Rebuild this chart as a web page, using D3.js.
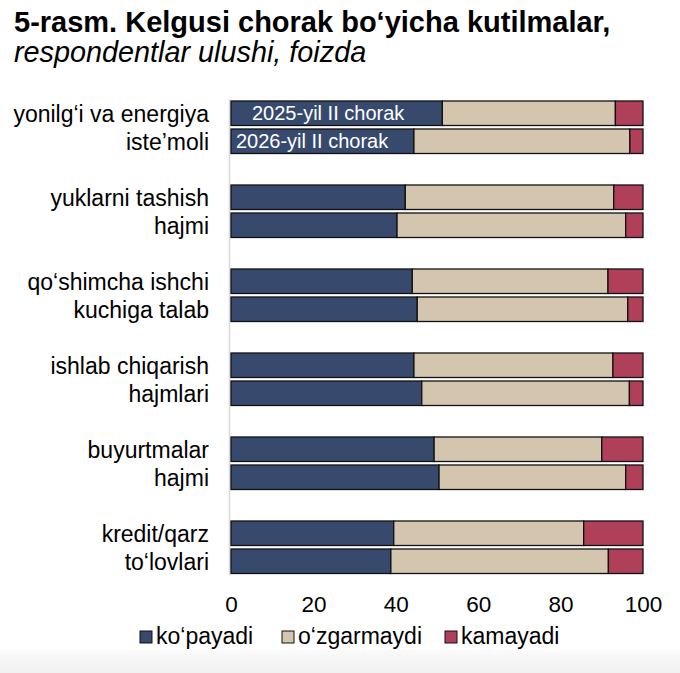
<!DOCTYPE html>
<html>
<head>
<meta charset="utf-8">
<script src="https://cdn.jsdelivr.net/npm/d3@7"></script>
<style>
  body { margin: 0; background: #fff; }
  svg text { font-family: "Liberation Sans", Arial, sans-serif; fill: #000; }
</style>
</head>
<body>
<div id="chart"></div>
<script>
// categories, two lines each
const categories = [
  ['yonilg‘i va energiya', 'iste’moli'],
  ['yuklarni tashish', 'hajmi'],
  ['qo‘shimcha ishchi', 'kuchiga talab'],
  ['ishlab chiqarish', 'hajmlari'],
  ['buyurtmalar', 'hajmi'],
  ['kredit/qarz', 'to‘lovlari']
];
const periods = ['2025-yil II chorak', '2026-yil II chorak'];
const seriesNames = ['ko‘payadi', 'o‘zgarmaydi', 'kamayadi'];

// shares per category: [2025, 2026]
const kopayadi = [[51.3, 44.4], [42.3, 40.3], [44.0, 45.2], [44.4, 46.3], [49.3, 50.5], [39.5, 38.8]];
const ozgarmaydi = [[42.0, 52.4], [50.6, 55.5], [47.5, 51.1], [48.3, 50.4], [40.7, 45.3], [46.1, 52.8]];
const kamayadi = [[6.7, 3.2], [7.1, 4.2], [8.5, 3.7], [7.3, 3.3], [10.0, 4.2], [14.4, 8.4]];

const tickValues = [0, 20, 40, 60, 80, 100];

const width = 680, height = 673;
const colors = ['#374a6e', '#d4c5ae', '#b0405a'];

const svg = d3.select('#chart').append('svg')
  .attr('width', width)
  .attr('height', height);

// faint band at bottom of the picture
const grad = svg.append('defs').append('linearGradient')
  .attr('id', 'band').attr('x1', 0).attr('x2', 0).attr('y1', 0).attr('y2', 1);
grad.append('stop').attr('offset', 0).attr('stop-color', '#fbfbfb');
grad.append('stop').attr('offset', 1).attr('stop-color', '#f0f0f0');
svg.append('rect')
  .attr('x', 0).attr('y', 650).attr('width', width).attr('height', height - 650)
  .attr('fill', 'url(#band)');

svg.append('text')
  .attr('x', 14).attr('y', 32)
  .attr('font-size', '29px')
  .attr('font-weight', 'bold')
  .text('5-rasm. Kelgusi chorak bo‘yicha kutilmalar,');

svg.append('text')
  .attr('x', 14).attr('y', 62)
  .attr('font-size', '28.8px')
  .attr('font-style', 'italic')
  .text('respondentlar ulushi, foizda');

const x = d3.scaleLinear().domain([0, 100]).range([231, 643]);

const catKeys = categories.map((c, i) => i);
const y0 = d3.scaleBand().domain(catKeys).range([101, 573.5]).paddingInner(0.375).paddingOuter(0);
const y1 = d3.scaleBand().domain([0, 1]).range([0, y0.bandwidth()]).paddingInner(0.125);

// build rows
const rows = [];
catKeys.forEach(ci => {
  [0, 1].forEach(pi => {
    rows.push({ ci, pi, values: [kopayadi[ci][pi], ozgarmaydi[ci][pi], kamayadi[ci][pi]] });
  });
});

// axis line
svg.append('line')
  .attr('x1', x(0) - 1.5).attr('x2', x(0) - 1.5)
  .attr('y1', y0.range()[0] - 2).attr('y2', y0.range()[1] + 2)
  .attr('stroke', '#d9d9d9')
  .attr('stroke-width', 1.5);

const stack = d3.stack().keys([0, 1, 2]).value((d, k) => d.values[k]);
const stacked = stack(rows);

const g = svg.append('g');
stacked.forEach((layer, k) => {
  g.selectAll(null)
    .data(layer)
    .join('rect')
    .attr('x', d => x(d[0]))
    .attr('width', d => x(d[1]) - x(d[0]))
    .attr('y', d => y0(d.data.ci) + y1(d.data.pi))
    .attr('height', y1.bandwidth())
    .attr('fill', colors[k])
    .attr('stroke', '#111')
    .attr('stroke-width', 1.3);
});

// series labels inside first bars
svg.append('text')
  .attr('x', x(5.1))
  .attr('y', y0(0) + y1(0) + y1.bandwidth() / 2)
  .attr('dy', '0.36em')
  .attr('font-size', '20px')
  .style('fill', '#fff')
  .text(periods[0]);

svg.append('text')
  .attr('x', x(1.2))
  .attr('y', y0(0) + y1(1) + y1.bandwidth() / 2)
  .attr('dy', '0.36em')
  .attr('font-size', '20px')
  .style('fill', '#fff')
  .text(periods[1]);

// category labels
catKeys.forEach(ci => {
  [0, 1].forEach(li => {
    svg.append('text')
      .attr('x', 209)
      .attr('y', y0(ci) + y1(li) + y1.bandwidth() / 2)
      .attr('dy', '0.36em')
      .attr('text-anchor', 'end')
      .attr('font-size', '23px')
      .text(categories[ci][li]);
  });
});

// x axis
const xAxis = svg.append('g')
  .attr('transform', 'translate(0,580)')
  .call(d3.axisBottom(x).tickValues(tickValues).tickSize(0).tickPadding(0));
xAxis.select('.domain').remove();
xAxis.selectAll('text')
  .attr('y', 0)
  .attr('dy', '1.42em')
  .attr('font-size', '22.5px')
  .style('font-family', '"Liberation Sans", Arial, sans-serif')
  .style('fill', '#000');

// legend
const legendX = [140, 282, 445];
const legend = svg.append('g');
seriesNames.forEach((name, k) => {
  legend.append('rect')
    .attr('x', legendX[k]).attr('y', 631)
    .attr('width', 12).attr('height', 12)
    .attr('fill', colors[k])
    .attr('stroke', '#111')
    .attr('stroke-width', 1);
  legend.append('text')
    .attr('x', legendX[k] + 16).attr('y', 644)
    .attr('font-size', '23px')
    .text(name);
});
</script>
</body>
</html>
